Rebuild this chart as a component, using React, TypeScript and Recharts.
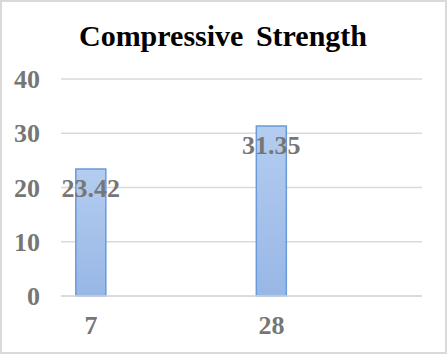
import * as React from 'react';
import {BarChart, Bar, CartesianGrid, XAxis, YAxis, LabelList} from 'recharts';

// curing age in days
const ages = [7, 28];
// compressive strength values
const strength = [23.42, 31.35];
const yTicks = [0, 10, 20, 30, 40];
const xTicks = [7, 28];

const data = ages.map((age, i) => ({age: age, strength: strength[i]}));

const font = '"Liberation Serif", "Times New Roman", serif';
const gray = '#767676';

export default function App() {
    return (
        <div style={{position: 'fixed', left: 0, top: 0, width: 447, height: 354, boxSizing: 'border-box', border: '2px solid #d9d9d9', background: '#fff'}}>
            <svg width={443} height={60} style={{position: 'absolute', left: 0, top: 0}}>
                <text x={221} y={44} textAnchor="middle" fontFamily={font} fontWeight="bold" fontSize={30} fill="#000" wordSpacing={5}>
                    Compressive Strength
                </text>
            </svg>
            <div style={{position: 'absolute', left: -2, top: -2}}>
                <BarChart width={447} height={354} data={data} margin={{top: 79, right: 25, bottom: 28, left: 0}}>
                    <defs>
                        <linearGradient id="barFill" x1="0" y1="0" x2="0" y2="1">
                            <stop offset="0%" stopColor="#b4cdf0"/>
                            <stop offset="100%" stopColor="#98b7e6"/>
                        </linearGradient>
                    </defs>
                    <CartesianGrid vertical={false} stroke="#d9d9d9" strokeWidth={1.5}/>
                    <XAxis
                        dataKey="age"
                        type="number"
                        domain={[3.5, 45.5]}
                        ticks={xTicks}
                        height={30}
                        axisLine={{stroke: '#d9d9d9', strokeWidth: 1.5}}
                        tickLine={false}
                        tickSize={0}
                        tickMargin={20}
                        tick={{fill: gray, fontFamily: font, fontWeight: 'bold', fontSize: 26}}
                    />
                    <YAxis
                        domain={[0, 40]}
                        ticks={yTicks}
                        width={61}
                        axisLine={false}
                        tickLine={false}
                        tickSize={0}
                        tickMargin={21}
                        tick={{fill: gray, fontFamily: font, fontWeight: 'bold', fontSize: 26}}
                    />
                    <Bar dataKey="strength" barSize={30} fill="url(#barFill)" stroke="#6a9ad8" strokeWidth={1.5} isAnimationActive={false}>
                        <LabelList dataKey="strength" position="insideTop" offset={10} fill={gray} fontFamily={font} fontWeight="bold" fontSize={26}/>
                    </Bar>
                </BarChart>
            </div>
        </div>
    );
}
